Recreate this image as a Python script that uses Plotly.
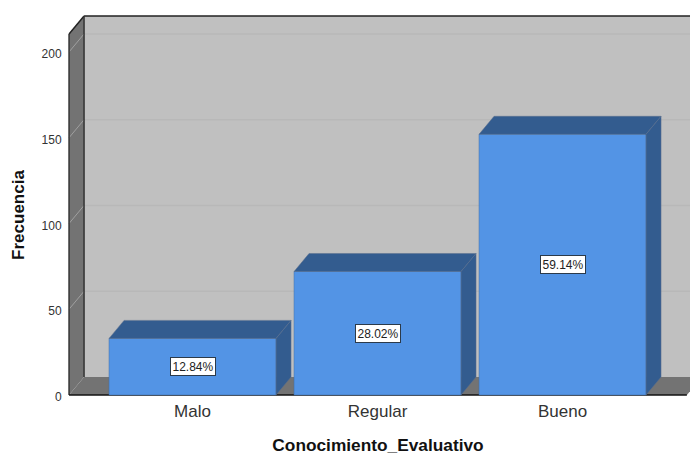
import plotly.graph_objects as go

categories = ["Malo", "Regular", "Bueno"]
frequencies = [33, 72, 152]
percent_labels = ["12.84%", "28.02%", "59.14%"]
y_ticks = [0, 50, 100, 150, 200]

WALL = "#c0c0c0"
SIDE = "#737373"
GRID = "#b8b8b8"
GRID_SIDE = "#a0a0a0"
FRONT = "#5394e5"
DARK_FACE = "#335c8f"
EDGE = "#2b2b2b"

# px scale helpers for the oblique depth
PX_X = 185.0
PX_Y = 1.715
DX = 15 / PX_X
DY = 18 / PX_Y
BAR_W = 167 / PX_X
x0 = -0.6675      # front-left corner of the box
x1 = 2.672        # front-right corner
ytop = 210.5      # front height of the box
xmax = 2.689
xmin = -0.684

def poly(xs, ys, color, lw=0, lc=None):
    p = "M" + " L".join(f"{a},{b}" for a, b in zip(xs, ys)) + " Z"
    return dict(type="path", path=p, xref="x", yref="y", fillcolor=color, layer="below",
                line=dict(width=lw, color=lc or color))

def seg(xa, ya, xb, yb, color, w=1):
    return dict(type="line", x0=xa, y0=ya, x1=xb, y1=yb, xref="x", yref="y", layer="below",
                line=dict(color=color, width=w))

shapes = [
    poly([x0 + DX, xmax + 1, xmax + 1, x0 + DX], [DY, DY, ytop + DY, ytop + DY], WALL),
    poly([x0, x0 + DX, x0 + DX, x0], [0, DY, ytop + DY, ytop], SIDE),
    poly([x0, x0 + DX, x1 + DX, x1], [0, DY, DY, 0], SIDE),
]
for t in y_ticks[1:]:
    shapes.append(seg(x0 + DX, t + DY, xmax + 1, t + DY, GRID, 1.5))
    shapes.append(seg(x0, t, x0 + DX, t + DY, GRID_SIDE, 1))
shapes += [
    seg(x0, 0, x0, ytop, "#333333", 1.5),
    seg(x0, ytop, x0 + DX, ytop + DY, "#222222", 1.5),
    seg(x0 + DX, ytop + DY, xmax + 1, ytop + DY, "#222222", 1.5),
    seg(x0 + DX, DY, x0 + DX, ytop + DY, "#333333", 1.5),
    seg(x0, 0, x1, 0, "#111111", 1.5),
]

fig = go.Figure()
idx = list(range(len(categories)))
fig.add_trace(go.Bar(x=idx, y=frequencies, width=BAR_W, marker=dict(color=FRONT, line=dict(width=0.5, color="#3f6ea8")),
                     showlegend=False, hoverinfo="skip"))

for i, v in zip(idx, frequencies):
    l, r = i - BAR_W / 2, i + BAR_W / 2
    fig.add_trace(go.Scatter(x=[l, l + DX, r + DX, r, l], y=[v, v + DY, v + DY, v, v], mode="lines",
                             fill="toself", fillcolor=DARK_FACE, line=dict(color="#5a6f8c", width=0.5),
                             showlegend=False, hoverinfo="skip"))
    fig.add_trace(go.Scatter(x=[r, r + DX, r + DX, r, r], y=[0, DY, v + DY, v, 0], mode="lines",
                             fill="toself", fillcolor=DARK_FACE, line=dict(color="#5a6f8c", width=0.5),
                             showlegend=False, hoverinfo="skip"))

annotations = [
    dict(x=i, y=v / 2, text=p, showarrow=False, xref="x", yref="y",
         font=dict(family="Liberation Sans", size=12, color="#222222"),
         bgcolor="white", bordercolor="#2b3a4a", borderwidth=1, borderpad=1.5)
    for i, v, p in zip(idx, frequencies, percent_labels)
]
annotations.append(dict(text="<b>Frecuencia</b>", textangle=-90, showarrow=False,
                        xref="paper", yref="y", x=0, xanchor="center", xshift=-47, y=105,
                        font=dict(family="Liberation Sans", size=17, color="#111111")))

fig.update_layout(
    width=690, height=455, autosize=False,
    margin=dict(l=66, r=0, t=13, b=57),
    paper_bgcolor="white", plot_bgcolor="white",
    shapes=shapes, annotations=annotations, showlegend=False,
    xaxis=dict(range=[xmin, xmax], tickmode="array", tickvals=idx, ticktext=categories,
               showgrid=False, zeroline=False, showline=False, ticks="", ticklabelstandoff=1,
               tickfont=dict(family="Liberation Sans", size=17, color="#333333"),
               title=dict(text="<b>Conocimiento_Evaluativo</b>", standoff=21,
                          font=dict(family="Liberation Sans", size=17.3, color="#111111"))),
    yaxis=dict(range=[-1.75, 222.7], tickmode="array", tickvals=y_ticks,
               showgrid=False, zeroline=False, showline=False,
               ticks="outside", ticklen=1, tickcolor="rgba(0,0,0,0)", ticklabelshift=2,
               tickfont=dict(family="Liberation Sans", size=12, color="#333333")),
)

fig.write_html("out.html", config={"displayModeBar": False},
               post_script="document.body.style.margin='0';document.documentElement.style.overflow='hidden';")
